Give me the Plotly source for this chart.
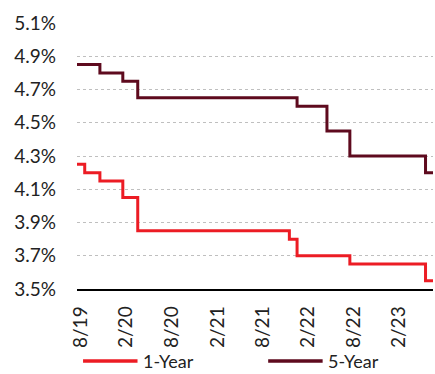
import plotly.graph_objects as go
import pandas as pd

# Monthly loan prime rates (%), Aug 2019 - Jul 2023
months = pd.date_range("2019-08-01", "2023-07-01", freq="MS")

one_year = (
    [4.25, 4.20, 4.20, 4.15, 4.15, 4.15, 4.05, 4.05]
    + [3.85] * 20
    + [3.80]
    + [3.70] * 7
    + [3.65] * 10
    + [3.55, 3.55]
)
five_year = (
    [4.85, 4.85, 4.85, 4.80, 4.80, 4.80, 4.75, 4.75]
    + [4.65] * 21
    + [4.60] * 4
    + [4.45] * 3
    + [4.30] * 10
    + [4.20, 4.20]
)

series_names = ["1-Year", "5-Year"]
series_colors = ["#EC1C24", "#5E0A1E"]

# Tick labels sit mid-month
tick_dates = ["2019-08-16", "2020-02-15", "2020-08-16", "2021-02-15",
              "2021-08-16", "2022-02-15", "2022-08-16", "2023-02-15"]
tick_labels = ["8/19", "2/20", "8/20", "2/21", "8/21", "2/22", "8/22", "2/23"]
y_ticks = [3.5, 3.7, 3.9, 4.1, 4.3, 4.5, 4.7, 4.9, 5.1]

FONT = "Lato"
FS = 19
TEXT = "#222222"

fig = go.Figure()
for name, values, color in zip(series_names, [one_year, five_year], series_colors):
    fig.add_trace(go.Scatter(
        x=months, y=values, name=name, mode="lines",
        line=dict(color=color, width=3, shape="hv"),
    ))

# Legend drawn below the axis labels: a short line swatch and a label per series
legend_x = [0.017, 0.537]   # swatch start, fraction of plot width
swatch_w = 0.153
legend_y = -0.271
for name, color, x0 in zip(series_names, series_colors, legend_x):
    fig.add_shape(
        type="line", xref="paper", yref="paper",
        x0=x0, x1=x0 + swatch_w, y0=legend_y, y1=legend_y,
        line=dict(color=color, width=3.5),
    )
    fig.add_annotation(
        xref="paper", yref="paper", x=x0 + swatch_w + 0.012, y=legend_y,
        text=name, showarrow=False, xanchor="left", yanchor="middle",
        borderpad=0, font=dict(family=FONT, size=18, color=TEXT),
    )

fig.update_layout(
    width=435, height=374,
    margin=dict(l=77, r=2, t=23, b=85),
    plot_bgcolor="white", paper_bgcolor="white",
    font=dict(family=FONT, size=FS, color=TEXT),
    showlegend=False,
)
fig.update_xaxes(
    type="date",
    range=[months[0], months[-1]],
    tickmode="array", tickvals=tick_dates, ticktext=tick_labels,
    tickangle=-90, ticks="", ticklabelstandoff=8,
    showgrid=False, zeroline=False,
    showline=True, linecolor="#000000", linewidth=1.5,
)
fig.update_yaxes(
    range=[3.5, 5.1],
    tickmode="array", tickvals=y_ticks,
    ticktext=[f"{v:.1f}%" for v in y_ticks],
    ticks="", ticklabelstandoff=20,
    showgrid=True, gridcolor="#BFBFBF", griddash="dot", gridwidth=1,
    zeroline=False, showline=False,
)

fig.write_html("out.html")
